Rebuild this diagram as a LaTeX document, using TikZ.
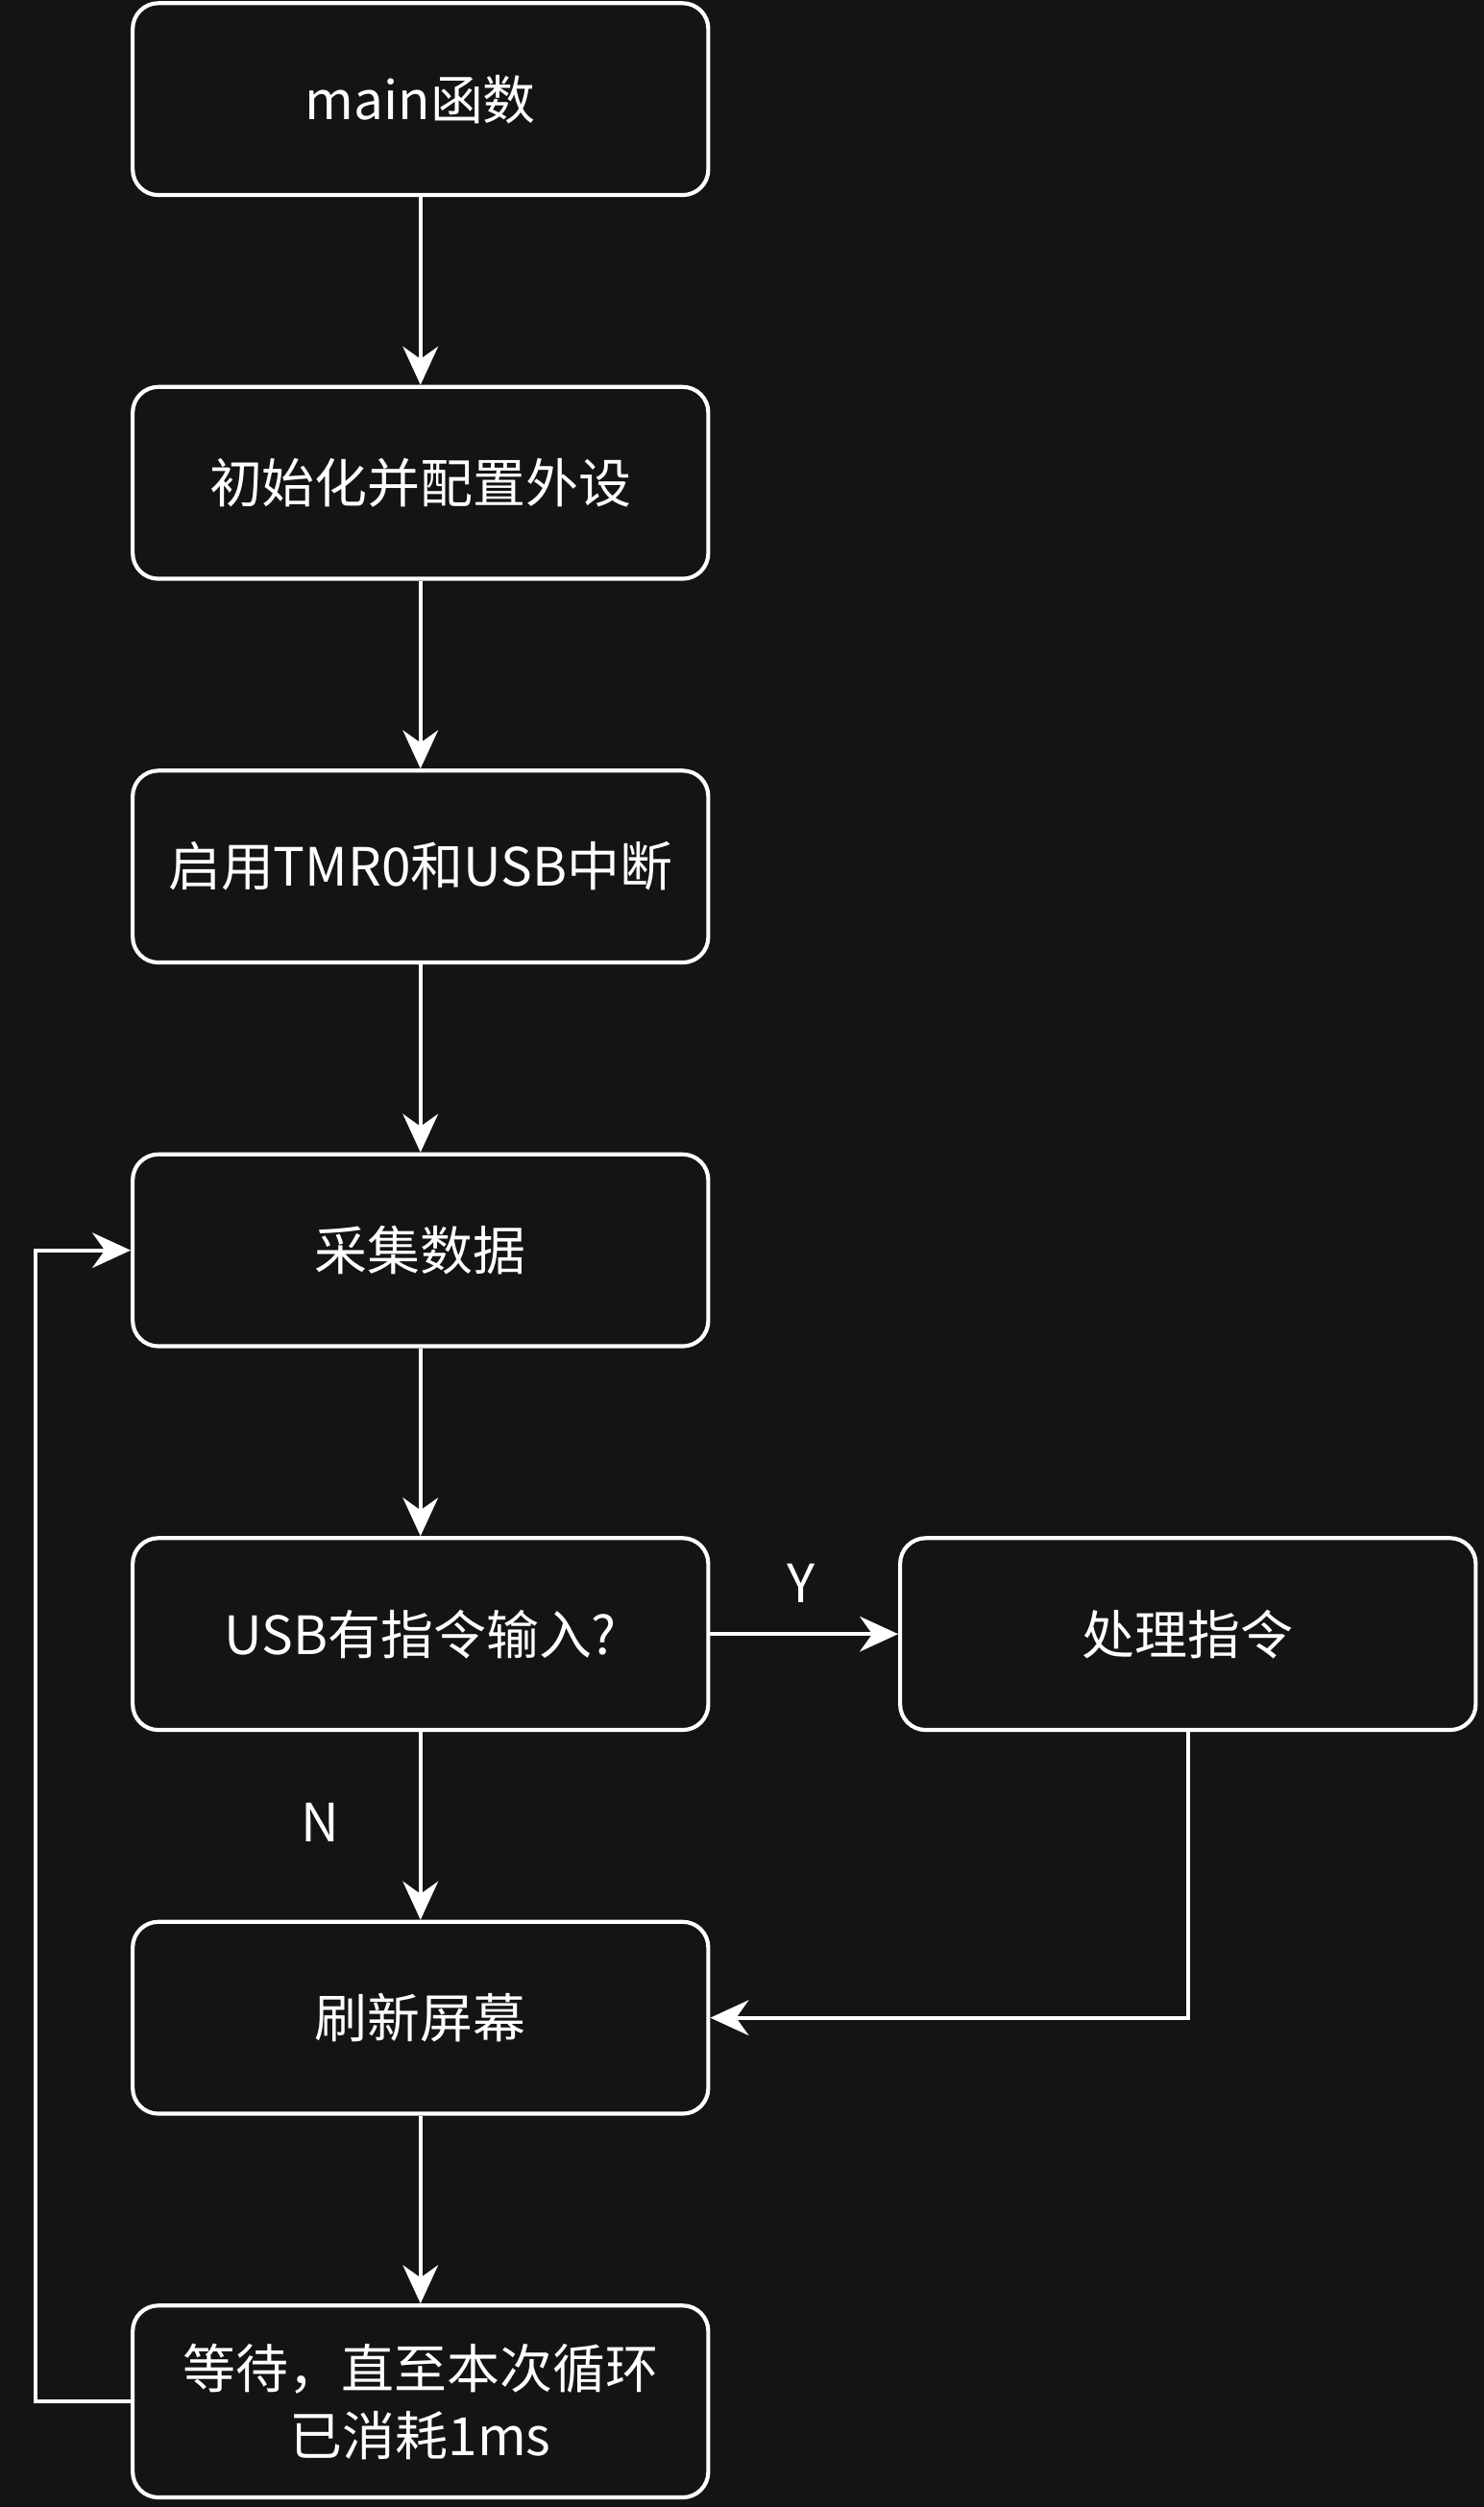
\documentclass[tikz,border=0pt]{standalone}
\usepackage{fontspec}
\setmainfont{Noto Sans CJK SC}
\usetikzlibrary{arrows.meta}
\begin{document}
\begin{tikzpicture}[x=1pt,y=1pt,
 box/.style={draw=white,line width=2.5pt,rounded corners=16pt,minimum width=360pt,minimum height=120pt,text=white,font=\fontsize{33}{42}\selectfont,align=center,inner sep=0pt},
 arr/.style={draw=white,line width=2.5pt,-{Stealth[length=24pt,width=22pt]}},
 lbl/.style={text=white,font=\fontsize{33}{40}\selectfont}]
\fill[fill={rgb,255:red,20;green,20;blue,20}] (0,0) rectangle (928,-1568);
\useasboundingbox (0,0) rectangle (928,-1568);
\node[box] (a) at (263,-62) {main函数};
\node[box] (b) at (263,-302) {初始化并配置外设};
\node[box] (c) at (263,-542) {启用TMR0和USB中断};
\node[box] (d) at (263,-782) {采集数据};
\node[box] (e) at (263,-1022) {USB有指令输入?};
\node[box] (f) at (743,-1022) {处理指令};
\node[box] (g) at (263,-1262) {刷新屏幕};
\node[box] (h) at (263,-1502) {等待，直至本次循环\\已消耗1ms};
\coordinate (l1) at (22,-1502);
\coordinate (l2) at (22,-782);
\coordinate (r1) at (743,-1262);
\draw[arr] (a) -- (b);
\draw[arr] (b) -- (c);
\draw[arr] (c) -- (d);
\draw[arr] (d) -- (e);
\draw[arr] (e) -- (f);
\draw[arr] (e) -- (g);
\draw[arr] (g) -- (h);
\draw[arr] (f.south) -- (r1) -- (g.east);
\draw[arr] (h.west) -- (l1) -- (l2) -- (d.west);
\node[lbl] (y) at (501,-990) {Y};
\node[lbl] (n) at (200,-1140) {N};
\end{tikzpicture}
\end{document}
